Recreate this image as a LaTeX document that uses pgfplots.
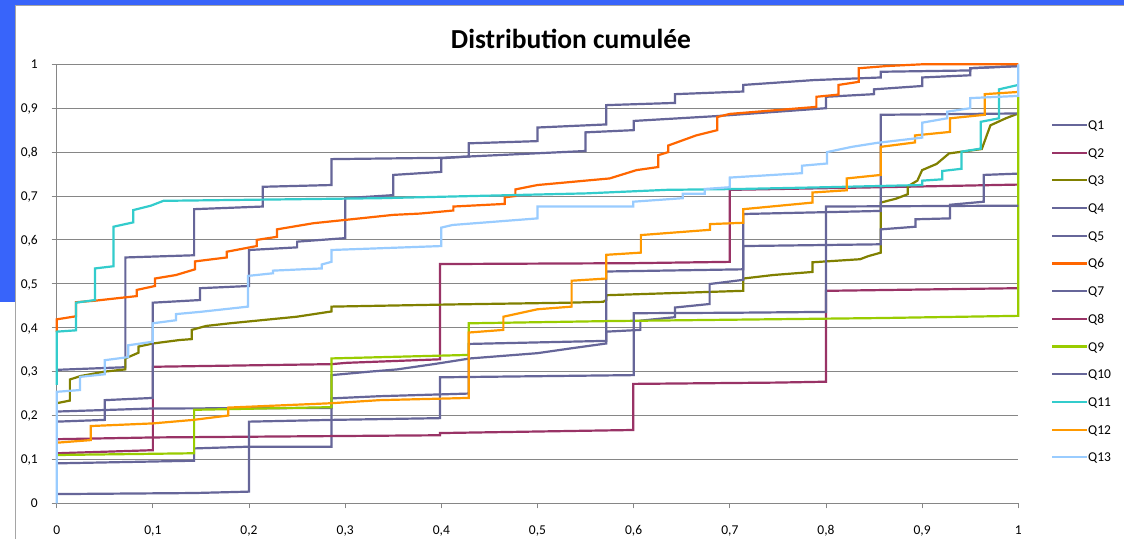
\documentclass[border=0pt]{standalone}
\usepackage{fontspec}
\setmainfont{Carlito}
\usepackage{pgfplots}
\pgfplotsset{compat=1.18}
\definecolor{frameblue}{RGB}{56,100,250}
\definecolor{framegray}{RGB}{165,165,165}
\definecolor{gridgray}{RGB}{134,134,134}
\definecolor{qpurple}{HTML}{666699}
\definecolor{qmaroon}{HTML}{993366}
\definecolor{qolive}{HTML}{808000}
\definecolor{qred}{HTML}{FF6600}
\definecolor{qgreen}{HTML}{99CC00}
\definecolor{qturq}{HTML}{33CCCC}
\definecolor{qorange}{HTML}{FF9900}
\definecolor{qblue}{HTML}{99CCFF}
\begin{document}
\begin{tikzpicture}[x=1pt,y=1pt]
\path[use as bounding box] (0,0) rectangle (1124,539);
\fill[white] (0,0) rectangle (1124,539);
\fill[frameblue] (0,533.5) rectangle (1124,539);
\fill[frameblue] (0,237.3) rectangle (14.5,539);
\draw[framegray, line width=1pt] (15,0) -- (15,533.3) -- (1124,533.3);
\begin{axis}[
  at={(56.7pt,35.7pt)}, anchor=south west,
  scale only axis, width=961.6pt, height=439pt,
  xmin=0, xmax=1, ymin=0, ymax=1,
  clip=false,
  axis x line*=bottom, axis y line*=left,
  axis line style={gridgray, line width=0.9pt, -},
  ymajorgrids, grid style={gridgray, line width=0.9pt},
  xtick={0,0.1,0.2,0.3,0.4,0.5,0.6,0.7,0.8,0.9,1},
  ytick={0,0.1,0.2,0.3,0.4,0.5,0.6,0.7,0.8,0.9,1},
  tick align=outside, major tick length=5pt,
  tick style={gridgray, line width=0.9pt},
  /pgf/number format/use comma,
  /pgf/number format/assume math mode=true,
  xticklabel style={font=\fontsize{13.5}{13.5}\selectfont, inner sep=0pt, anchor=north, text depth=0pt, yshift=-17pt},
  yticklabel style={font=\fontsize{13.5}{13.5}\selectfont, inner sep=0pt, anchor=east, text depth=0pt, xshift=-13.7pt},
  title={Distribution cumulée},
  title style={at={(axis description cs:0.5348,1.044)}, anchor=center, inner sep=0pt, font=\bfseries\fontsize{27.5}{27.5}\selectfont},
  legend cell align=left,
  legend style={draw=none, fill=none, at={(axis description cs:1.034,0.8933)}, anchor=north west, inner sep=0pt, outer sep=0pt, row sep=0pt, column sep=0pt, font=\fontsize{13.5}{13.5}\selectfont, nodes={inner sep=0pt, text height=18.35pt, text depth=9.35pt}},
  legend image code/.code={\draw[#1] (0pt,0pt) -- (32pt,0pt); \path (0pt,0pt) -- (35pt,0pt);},
  every axis plot/.append style={line width=2.2pt, line join=miter, line cap=butt, mark=none},
]
% Q1
\addplot[qpurple] coordinates {(0,0.304) (0.0714,0.31) (0.0714,0.56) (0.1429,0.565) (0.1429,0.67) (0.2143,0.676) (0.2143,0.721) (0.2857,0.725) (0.2857,0.784) (0.40,0.787) (0.4286,0.79) (0.4286,0.82) (0.50,0.825) (0.50,0.856) (0.5714,0.863) (0.5714,0.907) (0.643,0.912) (0.643,0.932) (0.714,0.938) (0.714,0.953) (0.787,0.964) (0.857,0.97) (0.857,0.983) (0.95,0.986) (0.95,0.991) (1,0.996)};
% Q2
\addplot[qmaroon] coordinates {(0,0.114) (0.1,0.121) (0.1,0.311) (0.2857,0.317) (0.3016,0.32) (0.3986,0.328) (0.3986,0.545) (0.60,0.547) (0.70,0.55) (0.70,0.714) (0.857,0.72) (1,0.726)};
% Q3
\addplot[qolive] coordinates {(0,0.228) (0.0137,0.234) (0.0137,0.282) (0.025,0.29) (0.05,0.30) (0.0714,0.305) (0.0714,0.33) (0.085,0.343) (0.085,0.357) (0.1,0.364) (0.128,0.372) (0.1404,0.374) (0.1404,0.395) (0.1554,0.404) (0.18,0.41) (0.2496,0.425) (0.2857,0.437) (0.2857,0.448) (0.4116,0.453) (0.534,0.457) (0.5684,0.459) (0.5714,0.463) (0.5714,0.474) (0.714,0.484) (0.714,0.512) (0.745,0.52) (0.786,0.527) (0.786,0.549) (0.8355,0.556) (0.844,0.563) (0.857,0.571) (0.857,0.685) (0.873,0.694) (0.885,0.704) (0.885,0.722) (0.895,0.735) (0.900,0.759) (0.915,0.773) (0.928,0.797) (0.962,0.807) (0.971,0.861) (0.987,0.877) (1,0.888)};
% Q4
\addplot[qpurple] coordinates {(0,0.209) (0.1,0.216) (0.2857,0.217) (0.2857,0.292) (0.326,0.30) (0.354,0.305) (0.392,0.317) (0.43,0.33) (0.50,0.342) (0.535,0.353) (0.5714,0.364) (0.5714,0.528) (0.714,0.533) (0.714,0.586) (0.857,0.59) (0.857,0.624) (0.893,0.63) (0.893,0.647) (0.929,0.649) (0.929,0.68) (0.964,0.687) (0.964,0.748) (1,0.751)};
% Q5
\addplot[qpurple] coordinates {(0,0.186) (0.05,0.19) (0.05,0.235) (0.0998,0.24) (0.0998,0.457) (0.149,0.463) (0.149,0.49) (0.2,0.495) (0.2,0.577) (0.25,0.583) (0.25,0.596) (0.30,0.604) (0.30,0.695) (0.35,0.702) (0.35,0.748) (0.40,0.755) (0.40,0.786) (0.4286,0.79) (0.55,0.8025) (0.55,0.845) (0.60,0.85) (0.60,0.871) (0.686,0.882) (0.80,0.90) (0.80,0.926) (0.85,0.932) (0.85,0.943) (0.90,0.9506) (0.90,0.97) (0.95,0.975) (0.95,0.991) (1,0.996)};
% Q6
\addplot[qred] coordinates {(0,0.39) (0,0.419) (0.020,0.426) (0.020,0.458) (0.0398,0.4615) (0.0832,0.472) (0.0832,0.486) (0.1022,0.495) (0.1022,0.512) (0.124,0.52) (0.1438,0.533) (0.1438,0.551) (0.1768,0.56) (0.1768,0.573) (0.208,0.586) (0.208,0.600) (0.229,0.607) (0.229,0.624) (0.267,0.638) (0.2978,0.645) (0.35,0.657) (0.378,0.66) (0.4125,0.667) (0.4125,0.676) (0.466,0.682) (0.466,0.697) (0.477,0.70) (0.477,0.715) (0.50,0.725) (0.575,0.74) (0.603,0.759) (0.6256,0.766) (0.6256,0.793) (0.636,0.80) (0.636,0.815) (0.665,0.838) (0.687,0.85) (0.687,0.88) (0.70,0.887) (0.79,0.903) (0.79,0.926) (0.813,0.931) (0.813,0.953) (0.834,0.96) (0.834,0.991) (0.863,0.996) (0.9,1.0) (1,1.0)};
% Q7
\addplot[qpurple] coordinates {(0,0.091) (0.1429,0.097) (0.1429,0.125) (0.2,0.129) (0.2857,0.129) (0.2857,0.239) (0.336,0.244) (0.4286,0.25) (0.4286,0.363) (0.5714,0.37) (0.5714,0.391) (0.607,0.395) (0.607,0.416) (0.643,0.424) (0.643,0.446) (0.679,0.454) (0.679,0.4995) (0.714,0.509) (0.714,0.659) (0.857,0.666) (0.857,0.885) (1,0.888)};
% Q8
\addplot[qmaroon] coordinates {(0,0.146) (0.1,0.15) (0.3986,0.155) (0.3986,0.16) (0.5996,0.167) (0.5996,0.272) (0.75,0.275) (0.80,0.277) (0.80,0.484) (0.90,0.487) (1,0.49)};
% Q9
\addplot[qgreen] coordinates {(0,0.11) (0.1429,0.114) (0.1429,0.213) (0.2857,0.219) (0.2857,0.33) (0.4286,0.338) (0.4286,0.41) (0.5714,0.415) (0.857,0.422) (1,0.427) (1,0.925)};
% Q10
\addplot[qpurple] coordinates {(0,0.021) (0.1429,0.0234) (0.2,0.0266) (0.2,0.186) (0.2857,0.19) (0.3986,0.194) (0.3986,0.287) (0.60,0.292) (0.60,0.433) (0.70,0.434) (0.80,0.436) (0.80,0.676) (1,0.678)};
% Q11
\addplot[qturq] coordinates {(0,0.27) (0,0.391) (0.020,0.394) (0.020,0.457) (0.0398,0.463) (0.0398,0.535) (0.059,0.54) (0.059,0.63) (0.0797,0.64) (0.0797,0.668) (0.098,0.678) (0.111,0.689) (0.336,0.695) (0.551,0.706) (0.634,0.714) (0.71,0.716) (0.8,0.72) (0.90,0.725) (0.90,0.735) (0.921,0.738) (0.921,0.757) (0.941,0.762) (0.941,0.801) (0.961,0.808) (0.961,0.869) (0.98,0.877) (0.98,0.943) (1,0.953)};
% Q12
\addplot[qorange] coordinates {(0,0.138) (0.0354,0.144) (0.0354,0.176) (0.1,0.182) (0.1422,0.19) (0.1785,0.2) (0.1785,0.218) (0.2857,0.228) (0.336,0.235) (0.4286,0.24) (0.4286,0.389) (0.4645,0.395) (0.4645,0.425) (0.50,0.442) (0.5355,0.448) (0.5355,0.507) (0.5714,0.512) (0.5714,0.566) (0.6075,0.571) (0.6075,0.611) (0.6794,0.623) (0.6794,0.636) (0.714,0.639) (0.714,0.67) (0.786,0.685) (0.786,0.708) (0.8215,0.713) (0.8215,0.74) (0.857,0.748) (0.857,0.812) (0.8926,0.822) (0.8926,0.838) (0.929,0.846) (0.929,0.877) (0.965,0.885) (0.965,0.932) (1,0.937)};
% Q13
\addplot[qblue] coordinates {(0,0) (0,0.254) (0.0243,0.258) (0.0243,0.288) (0.050,0.294) (0.050,0.326) (0.0745,0.333) (0.0745,0.36) (0.0998,0.368) (0.0998,0.41) (0.124,0.417) (0.124,0.431) (0.149,0.436) (0.199,0.448) (0.199,0.518) (0.225,0.524) (0.225,0.53) (0.2756,0.535) (0.2756,0.544) (0.2857,0.55) (0.2857,0.577) (0.40,0.586) (0.40,0.628) (0.4116,0.634) (0.50,0.649) (0.50,0.676) (0.5996,0.676) (0.5996,0.687) (0.651,0.695) (0.651,0.705) (0.674,0.705) (0.674,0.716) (0.70,0.72) (0.70,0.742) (0.775,0.752) (0.775,0.769) (0.801,0.774) (0.801,0.80) (0.827,0.812) (0.853,0.821) (0.90,0.833) (0.90,0.867) (0.926,0.877) (0.926,0.892) (0.95,0.90) (0.95,0.923) (1,0.928) (1,1.0)};
\legend{Q1,Q2,Q3,Q4,Q5,Q6,Q7,Q8,Q9,Q10,Q11,Q12,Q13}
\end{axis}
\end{tikzpicture}
\end{document}
